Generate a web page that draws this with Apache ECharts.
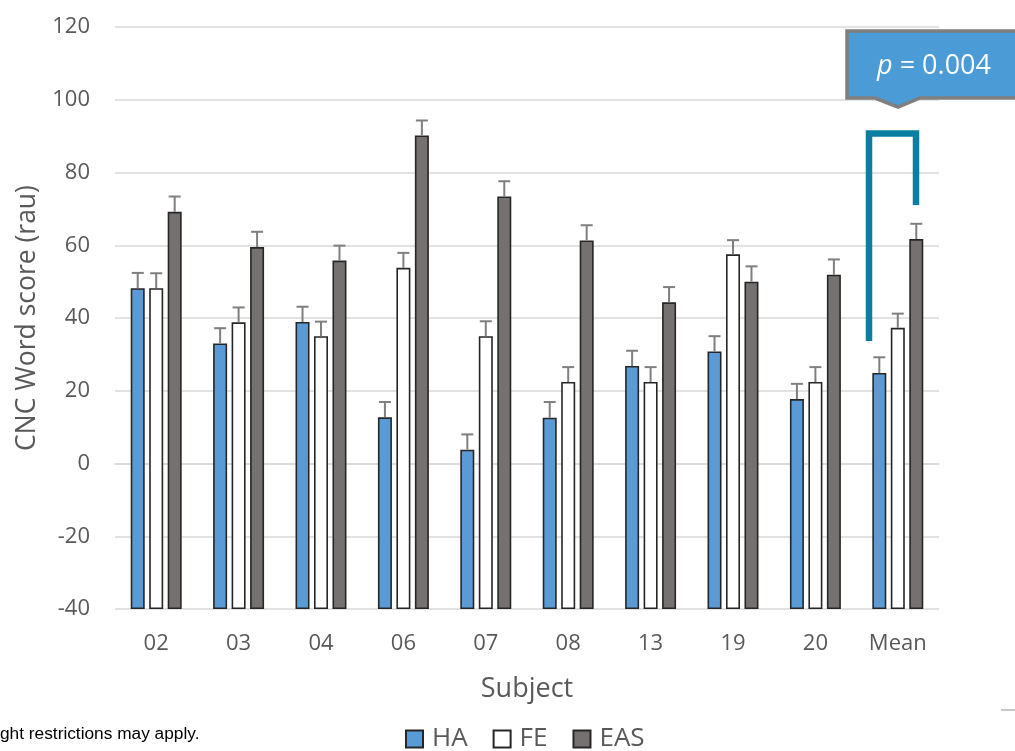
<!DOCTYPE html>
<html>
<head>
<meta charset="utf-8">
<script src="https://cdn.jsdelivr.net/npm/echarts@6/dist/echarts.min.js"></script>
<style>
  html, body { margin: 0; padding: 0; background: #ffffff; }
  #chart { width: 1015px; height: 751px; }
</style>
</head>
<body>
<div id="chart"></div>
<script>
// CNC word scores (rau) per subject for three fitting conditions, with SE bars
const subjects = ['02', '03', '04', '06', '07', '08', '13', '19', '20', 'Mean'];
const haScores  = [48.2, 33.0, 38.9, 12.7, 3.8, 12.6, 26.8, 30.8, 17.7, 24.9];
const feScores  = [48.2, 38.8, 35.0, 53.8, 35.0, 22.4, 22.4, 57.5, 22.4, 37.3];
const easScores = [69.2, 59.5, 55.8, 90.2, 73.4, 61.3, 44.3, 50.0, 51.9, 61.7];
const haErr  = [4.2, 4.2, 4.2, 4.2, 4.2, 4.3, 4.2, 4.2, 4.2, 4.3];
const feErr  = [4.1, 4.1, 4.0, 4.1, 4.1, 4.1, 4.1, 3.9, 4.1, 3.9];
const easErr = [4.2, 4.2, 4.1, 4.1, 4.2, 4.2, 4.2, 4.2, 4.2, 4.2];
const yTicks = { min: -40, max: 120, step: 20 };
const pValueText = '0.004';

const FONT = "'Open Sans', 'Noto Sans', sans-serif";
const TEXT_GREY = '#595959';
const BAR_W = 14;
const BAR_GAP = 0.32;
const EDGE = '#262626';

const groups = [
  { name: 'HA',  values: haScores,  errors: haErr,  color: '#5B9BD5' },
  { name: 'FE',  values: feScores,  errors: feErr,  color: '#FFFFFF' },
  { name: 'EAS', values: easScores, errors: easErr, color: '#767171' }
];

const chart = echarts.init(document.getElementById('chart'), null, { renderer: 'canvas' });

// bar slot offset (px) relative to the category centre
function slotOffset(k) {
  return (k - (groups.length - 1) / 2) * BAR_W * (1 + BAR_GAP);
}

const barSeries = groups.map(g => ({
  name: g.name,
  type: 'bar',
  data: g.values,
  barWidth: BAR_W,
  barGap: (BAR_GAP * 100) + '%',
  itemStyle: { color: g.color, borderColor: EDGE, borderWidth: 1.6 },
  emphasis: { disabled: true },
  z: 2
}));

const errSeries = groups.map((g, k) => ({
  name: g.name + ' error',
  type: 'custom',
  data: g.values.map((v, i) => [i, v, g.errors[i]]),
  encode: { x: 0, y: 1 },
  z: 3,
  silent: true,
  renderItem: function (params, api) {
    const i = api.value(0);
    const v = api.value(1);
    const e = api.value(2);
    const base = api.coord([i, v]);
    const top = api.coord([i, v + e]);
    const x = base[0] + slotOffset(k);
    const cap = 6;
    const style = { stroke: '#7F7F7F', lineWidth: 2 };
    return {
      type: 'group',
      children: [
        { type: 'line', shape: { x1: x, y1: base[1], x2: x, y2: top[1] }, style: style },
        { type: 'line', shape: { x1: x - cap, y1: top[1], x2: x + cap, y2: top[1] }, style: style }
      ]
    };
  }
}));

const option = {
  backgroundColor: '#ffffff',
  animation: false,
  textStyle: { fontFamily: FONT },
  grid: { left: 115, right: 76, top: 27, bottom: 142, containLabel: false },
  legend: {
    data: groups.map(g => g.name),
    left: 400,
    top: 721,
    icon: 'rect',
    itemWidth: 17,
    itemHeight: 17,
    itemGap: 25,
    itemStyle: { borderColor: EDGE, borderWidth: 2 },
    textStyle: { fontFamily: FONT, fontSize: 26, color: TEXT_GREY, padding: [0, 0, 0, 4] },
    selectedMode: false
  },
  xAxis: {
    type: 'category',
    data: subjects,
    name: 'Subject',
    nameLocation: 'middle',
    nameGap: 67,
    nameTextStyle: { fontFamily: FONT, fontSize: 27, color: TEXT_GREY },
    axisLine: { show: true, lineStyle: { color: '#D9D9D9', width: 1.5 } },
    axisTick: { show: false },
    axisLabel: { fontFamily: FONT, fontSize: 22, color: TEXT_GREY, margin: 24 }
  },
  yAxis: {
    type: 'value',
    min: yTicks.min,
    max: yTicks.max,
    interval: yTicks.step,
    startValue: yTicks.min,
    name: 'CNC Word score (rau)',
    nameLocation: 'middle',
    nameGap: 74,
    nameTextStyle: { fontFamily: FONT, fontSize: 26.5, color: TEXT_GREY },
    axisLine: { show: false },
    axisTick: { show: false },
    axisLabel: { fontFamily: FONT, fontSize: 22, color: TEXT_GREY, margin: 25 },
    splitLine: { show: true, lineStyle: { color: '#D9D9D9', width: 1.5 } }
  },
  series: barSeries.concat(errSeries),
  graphic: [
    // significance bracket over the Mean group
    {
      type: 'polyline',
      shape: { points: [[869, 341], [869, 133.5], [916, 133.5], [916, 205]] },
      style: { stroke: '#0A7FA3', lineWidth: 6.5, fill: null, lineJoin: 'miter', lineCap: 'butt' },
      z: 10
    },
    // callout box with the p-value
    {
      type: 'polygon',
      shape: { points: [[847, 31], [1030, 31], [1030, 98], [920, 98], [898, 107], [875, 98], [847, 98]] },
      style: { fill: '#4A9BD6', stroke: '#7F7F7F', lineWidth: 3.5, lineJoin: 'miter' },
      z: 10
    },
    {
      type: 'text',
      x: 934,
      y: 66,
      z: 11,
      style: {
        text: '{p|p} = ' + pValueText,
        align: 'center',
        verticalAlign: 'middle',
        fill: '#FFFFFF',
        font: "27px 'Open Sans', sans-serif",
        rich: {
          p: { fontStyle: 'italic', fontSize: 27, fontFamily: FONT, fill: '#FFFFFF' }
        }
      }
    },
    {
      type: 'text',
      x: 0,
      y: 734,
      style: {
        text: 'ght restrictions may apply.',
        fill: '#000000',
        font: "17.3px 'Liberation Sans', Arial, sans-serif",
        verticalAlign: 'middle'
      }
    },
    {
      type: 'rect',
      shape: { x: 1001, y: 709, width: 14, height: 2 },
      style: { fill: '#C8C8C8' }
    }
  ]
};

chart.setOption(option);
</script>
</body>
</html>
